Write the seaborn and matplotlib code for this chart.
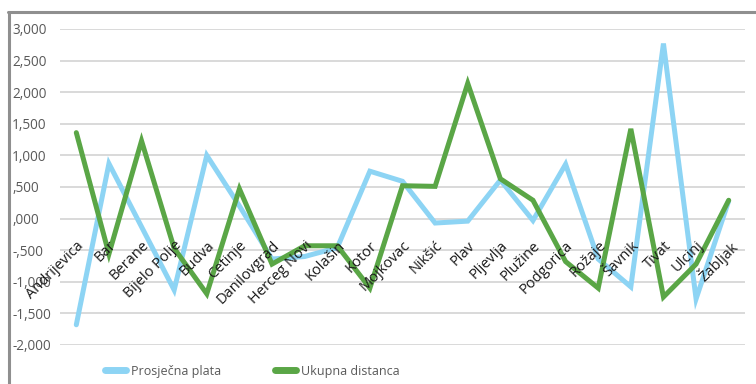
import numpy as np
import pandas as pd
import matplotlib
matplotlib.use('Agg')
import matplotlib.pyplot as plt
from matplotlib import font_manager
import seaborn as sns

# standardized values per municipality
gradovi = ['Andrijevica', 'Bar', 'Berane', 'Bijelo Polje', 'Budva', 'Cetinje',
           'Danilovgrad', 'Herceg Novi', 'Kolašin', 'Kotor', 'Mojkovac', 'Nikšić',
           'Plav', 'Pljevlja', 'Plužine', 'Podgorica', 'Rožaje', 'Šavnik',
           'Tivat', 'Ulcinj', 'Žabljak']
prosjecna_plata = [-1.68, 0.87, -0.13, -1.13, 1.00, 0.20, -0.64, -0.60, -0.46, 0.75,
                   0.59, -0.07, -0.04, 0.61, -0.03, 0.86, -0.64, -1.08, 2.77, -1.27, 0.28]
ukupna_distanca = [1.36, -0.56, 1.23, -0.47, -1.19, 0.47, -0.72, -0.43, -0.43, -1.10,
                   0.52, 0.51, 2.14, 0.63, 0.29, -0.68, -1.10, 1.42, -1.24, -0.72, 0.29]
serije = ['Prosječna plata', 'Ukupna distanca']
boje = ['#8DD4F4', '#5AA646']
y_ticks = [-2.0, -1.5, -1.0, -0.5, 0.0, 0.5, 1.0, 1.5, 2.0, 2.5, 3.0]

sns.set_theme(style='white')
installed = {f.name for f in font_manager.fontManager.ttflist}
font = next((f for f in ['Liberation Sans Narrow', 'Open Sans', 'DejaVu Sans'] if f in installed))
plt.rcParams['font.family'] = [font, 'DejaVu Sans']

df = pd.DataFrame({
    'idx': list(range(len(gradovi))) * 2,
    'value': prosjecna_plata + ukupna_distanca,
    'serija': [serije[0]] * len(gradovi) + [serije[1]] * len(gradovi),
})

fig = plt.figure(figsize=(7.56, 3.84), dpi=100)
W, H = 756, 384
ax = fig.add_axes([60 / W, 1 - 345 / H, (745 - 60) / W, (345 - 29) / H])

sns.lineplot(data=df, x='idx', y='value', hue='serija', palette=boje,
             linewidth=3.6, sort=False, ax=ax, legend=False)
for ln in ax.lines:
    ln.set_solid_capstyle('round')
    ln.set_solid_joinstyle('miter')

# x axis crosses at 0, so the city names hang just under the zero line
ax.spines['bottom'].set_position(('data', 0))
for s in ax.spines.values():
    s.set_visible(False)

ax.set_xlim(-0.5, len(gradovi) - 0.5)
ax.set_ylim(-2.0, 3.0)
ax.set_yticks(y_ticks)
ax.set_yticklabels([('%.3f' % v).replace('.', ',').replace('0,', ',') for v in y_ticks],
                   ha='left', color='#595959', fontsize=9.8)
ax.tick_params(axis='y', length=0, pad=34.5)
ax.yaxis.grid(True, color='#CFCFCF', linewidth=1.1)
ax.set_axisbelow(True)
ax.xaxis.set_zorder(3)  # names drawn over the lines

ax.set_xticks(range(len(gradovi)))
ax.set_xticklabels(gradovi, rotation=45, ha='right', va='top',
                   rotation_mode='anchor', fontsize=10.5, color='#1a1a1a')
ax.tick_params(axis='x', length=0, pad=14)
ax.set_xlabel('')
ax.set_ylabel('')

# outer chart frame (left and top edges visible)
fig.add_artist(plt.Line2D([8.5 / W, 8.5 / W], [0, 1 - 11.5 / H], color='#8F8F8F', linewidth=2.2))
fig.add_artist(plt.Line2D([7.5 / W, 1], [1 - 11.5 / H, 1 - 11.5 / H], color='#8F8F8F', linewidth=2.2))

handles = [plt.Line2D([], [], color=c, linewidth=5, solid_capstyle='round') for c in boje]
fig.legend(handles, serije, loc='center', bbox_to_anchor=(252 / W, 1 - 371 / H), ncol=2,
           frameon=False, fontsize=9, handlelength=1.7, handletextpad=0.4,
           columnspacing=4.3, labelcolor='#595959')

fig.savefig('out.png', dpi=100)
